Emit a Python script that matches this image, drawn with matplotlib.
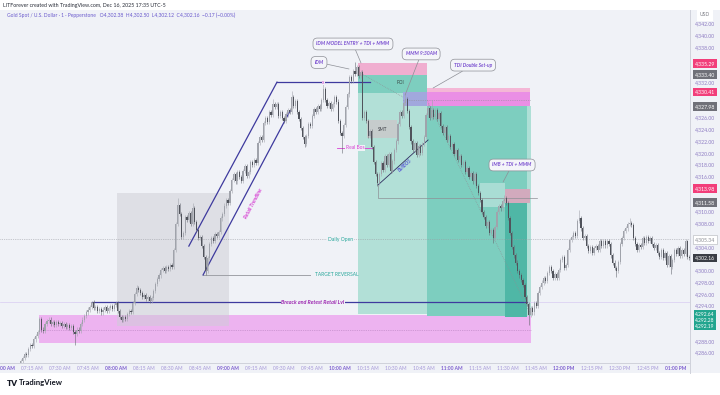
import numpy as np
import matplotlib.pyplot as plt
from matplotlib.patches import Rectangle
from matplotlib.lines import Line2D

plt.rcParams['font.family'] = ['Lato', 'DejaVu Sans']

# 1-minute candles, minutes counted from 07:00 AM
first_minute = 9
first_open = 4284.0
closes = [
    4284.6, 4285.2, 4285.9, 4285.6, 4286.7, 4287.4, 4287.2, 4288.3, 4288.9, 4289.6,
    4291.8, 4290.0, 4289.8, 4290.9, 4291.4, 4291.7, 4291.0, 4291.3, 4290.7, 4291.2,
    4290.9, 4291.1, 4290.6, 4290.9, 4290.5, 4290.8, 4290.2, 4290.6, 4289.6, 4289.2,
    4290.0, 4289.8, 4290.9, 4291.7, 4292.3, 4292.9, 4293.4, 4293.8, 4294.6, 4293.6,
    4293.9, 4293.2, 4293.5, 4292.9, 4293.4, 4293.8, 4293.2, 4293.6, 4294.0, 4293.5,
    4294.2, 4294.5, 4293.1, 4292.2, 4291.6, 4292.1, 4291.8, 4292.6, 4293.2, 4293.0,
    4294.5, 4296.1, 4297.0, 4296.7, 4296.2, 4295.6, 4295.9, 4295.2, 4295.5, 4294.8,
    4295.4, 4296.5, 4297.8, 4298.6, 4299.2, 4300.1, 4300.4, 4300.0, 4300.6, 4300.3,
    4301.0, 4300.6, 4303.5, 4307.9, 4311.2, 4309.6, 4305.8, 4306.4, 4309.2, 4308.6,
    4309.8, 4308.0, 4310.7, 4308.3, 4306.9, 4305.6, 4305.8, 4304.2, 4302.4, 4300.0,
    4302.1, 4304.6, 4305.5, 4305.0, 4306.3, 4306.0, 4306.6, 4308.9, 4309.6, 4311.1,
    4312.0, 4311.5, 4313.5, 4315.5, 4316.5, 4315.2, 4316.8, 4316.0, 4315.3, 4317.0,
    4317.8, 4316.2, 4316.8, 4318.5, 4318.0, 4318.9, 4318.4, 4321.8, 4322.8, 4322.3,
    4325.2, 4326.0, 4325.4, 4327.0, 4326.5, 4328.3, 4327.8, 4328.4, 4326.3, 4327.0,
    4326.0, 4325.5, 4326.6, 4327.4, 4327.0, 4329.5, 4328.0, 4328.9, 4327.0, 4325.8,
    4324.3, 4322.8, 4321.5, 4323.0, 4325.0, 4324.6, 4326.3, 4327.5, 4327.0, 4328.0,
    4327.6, 4329.0, 4331.0, 4329.0, 4328.0, 4328.6, 4327.5, 4328.3, 4329.5, 4328.8,
    4325.5, 4323.5, 4323.0, 4324.8, 4327.8, 4330.0, 4333.0, 4332.3, 4334.0, 4333.5,
    4334.6, 4333.2, 4333.8, 4326.0, 4327.0, 4325.5, 4323.0, 4323.8, 4321.0, 4318.5,
    4316.5, 4315.0, 4316.5, 4318.3, 4317.2, 4319.5, 4318.0, 4319.8, 4317.0, 4318.6,
    4320.5, 4322.0, 4325.0, 4327.0, 4326.4, 4328.5, 4329.3, 4327.2, 4324.5, 4322.0,
    4320.6, 4321.8, 4319.7, 4321.2, 4320.0, 4321.5, 4322.8, 4326.5, 4327.7, 4326.0,
    4327.4, 4326.2, 4327.3, 4325.8, 4326.8, 4324.6, 4323.5, 4324.5, 4322.3, 4323.0,
    4321.0, 4321.6, 4319.8, 4320.5, 4318.8, 4319.6, 4318.0, 4318.5, 4316.8, 4317.5,
    4316.0, 4316.6, 4315.2, 4316.4, 4314.5, 4313.2, 4312.0, 4310.0, 4309.2, 4307.6,
    4308.3, 4306.5, 4307.0, 4305.6, 4307.5, 4310.0, 4311.0, 4310.6, 4311.8, 4312.3,
    4311.5, 4309.0, 4306.5, 4304.0, 4302.6, 4301.4, 4300.0, 4299.2, 4298.5, 4297.6,
    4295.5, 4294.4, 4292.5, 4293.7, 4292.9, 4294.5, 4294.0, 4296.2, 4297.3, 4298.0,
    4298.8, 4298.2, 4299.6, 4300.6, 4300.0, 4298.8, 4299.5, 4298.7, 4300.1, 4301.8,
    4302.4, 4300.5, 4301.0, 4303.6, 4305.2, 4305.8, 4306.5, 4306.0, 4308.5, 4309.0,
    4307.2, 4305.5, 4305.9, 4304.2, 4303.4, 4304.0, 4303.0, 4303.8, 4304.2, 4303.5,
    4305.0, 4304.2, 4305.1, 4304.3, 4305.0, 4304.5, 4302.6, 4301.4, 4300.5, 4299.9,
    4301.5, 4304.5, 4305.5, 4306.8, 4307.2, 4308.0, 4308.2, 4307.8, 4305.6, 4304.6,
    4303.5, 4304.3, 4304.0, 4305.5, 4304.8, 4305.7, 4305.0, 4305.6, 4304.6, 4303.8,
    4304.4, 4303.0, 4302.4, 4303.6, 4302.2, 4303.0, 4301.0, 4302.5, 4300.6, 4301.8,
    4303.5, 4302.8, 4303.8, 4302.5, 4303.6, 4302.8, 4305.0, 4302.38, 4302.16,
]
# wick extremes (minute: price)
high_marks = {19: 4292.1, 47: 4294.9, 71: 4297.6, 93: 4312.3, 101: 4311.6, 144: 4329.3,
              154: 4330.6, 171: 4331.8, 188: 4335.5, 215: 4330.1, 227: 4328.5,
              229: 4329.0, 268: 4312.9, 308: 4310.3, 335: 4308.9, 366: 4305.2}
low_marks = {38: 4287.3, 108: 4299.3, 161: 4321.1, 181: 4320.1, 200: 4314.5,
             262: 4304.8, 281: 4290.8, 328: 4299.0, 357: 4299.4}

# price levels from the right scale
p1_stop, p1_entry, p1_target = 4335.29, 4333.40, 4292.64
p2_stop, p2_entry, p2_target = 4330.41, 4327.98, 4292.28
p3_stop, p3_entry, p3_target = 4313.98, 4311.58, 4292.19
last_price = 4302.16
daily_open = 4305.34
retest_lvl = 4294.68
target_rev = 4299.28
real_bos = 4320.9

price_ticks = list(range(4286, 4343, 2))
time_labels = ["07:00 AM", "07:15 AM", "07:30 AM", "07:45 AM", "08:00 AM", "08:15 AM",
               "08:30 AM", "08:45 AM", "09:00 AM", "09:15 AM", "09:30 AM", "09:45 AM",
               "10:00 AM", "10:15 AM", "10:30 AM", "10:45 AM", "11:00 AM", "11:15 AM",
               "11:30 AM", "11:45 AM", "12:00 PM", "12:15 PM", "12:30 PM", "12:45 PM",
               "01:00 PM"]

W, H = 720, 395
panel = '#F0F2F7'
navy = '#3E3A9E'
magenta = '#D63FD2'
purple = '#7A4FD0'

fig = plt.figure(figsize=(7.2, 3.95), dpi=100)
fig.patch.set_facecolor('white')
fig.add_artist(Rectangle((0, 1 - 373 / H), 1, 363 / H, transform=fig.transFigure,
                         facecolor=panel, edgecolor='none', zorder=0))
ax = fig.add_axes([0, 1 - 363 / H, 690 / W, 353 / H])
ax.set_xlim(-2.14, 367.4)
ax.set_ylim(4284.30, 4344.38)
ax.axis('off')

# axis frame lines
fig.add_artist(Line2D([0, 690 / W], [1 - 363 / H] * 2, transform=fig.transFigure, color='#CFD2DB', lw=0.7))
fig.add_artist(Line2D([690 / W] * 2, [1 - 10 / H, 1 - 373 / H], transform=fig.transFigure, color='#CFD2DB', lw=0.7))

# ---- zones ----
rects = [
    (18.7, 282.3, 4287.7, 4292.4, '#EDB3F0', 1.0, 1),
    (60.3, 120.5, 4290.6, 4313.2, '#CDCED5', 0.5, 2),
    (189.6, 226.6, p1_target, p1_entry, '#B2E0D7', 1.0, 1),
    (189.6, 226.6, 4330.3, p1_entry, '#7DCEBF', 1.0, 1.1),
    (189.6, 226.6, p1_entry, p1_stop, '#F0AED0', 1.0, 1.1),
    (226.6, 280.1, p2_target, p2_entry, '#7DCEBF', 1.0, 1),
    (280.1, 282.3, p2_target, p2_entry, '#AEDFD6', 1.0, 1),
    (226.6, 281.7, p2_stop, 4331.1, '#F4B7D6', 1.0, 1.1),
    (226.6, 281.7, p2_entry, p2_stop, '#EA8FE5', 1.0, 1.1),
    (213.7, 226.6, p2_entry, p2_stop, '#A1A8DD', 1.0, 1.2),
    (268.3, 280.1, p3_target, p3_entry, '#4FB7A6', 1.0, 1.2),
    (268.3, 281.7, p3_entry, p3_stop, '#D2AABD', 1.0, 1.3),
    (255.0, 268.3, 4310.85, 4314.94, '#A9DDD4', 1.0, 1.3),
    (194.4, 210.5, 4322.6, 4325.66, '#C6CCCC', 1.0, 1.3),
]
for t0, t1, lo, hi, c, a, z in rects:
    ax.add_patch(Rectangle((t0, lo), t1 - t0, hi - lo, facecolor=c, alpha=a, edgecolor='none', zorder=z))

dot = (0, (1, 1.6))
ax.plot([18.7, 282.3], [4290.0] * 2, color='#B27FBC', lw=0.5, ls=dot, zorder=2)
ax.axhline(retest_lvl, color='#D8CCF2', lw=0.5, zorder=2)
ax.axhline(daily_open, color='#9A9CA3', lw=0.5, ls=dot, zorder=2)
ax.plot([47, 280], [retest_lvl] * 2, color=navy, lw=0.9, zorder=3)
ax.plot([106.6, 164], [target_rev] * 2, color='#A0A2A8', lw=0.7, zorder=3)
ax.plot([99, 146.2], [4304.2, 4332.1], color=navy, lw=0.9, zorder=3)
ax.plot([146.2, 196], [4332.1] * 2, color=navy, lw=0.9, zorder=3)
ax.plot([106.6, 153.2], [target_rev, 4327.2], color=navy, lw=0.9, zorder=3)
ax.plot([178.4, 197.6], [real_bos] * 2, color=magenta, lw=0.6, zorder=3)
ax.plot([200.3, 227.1], [4314.6, 4322.26], color='#2F2E5E', lw=0.6, zorder=3)
ax.plot([200.3, 200.3, 285.5], [4314.6, 4312.38, 4312.38], color='#8E9096', lw=0.5, zorder=3)
ax.plot([190.7, 213.7], [4333.66, 4329.57], color='#8E9096', lw=0.5, ls=dot, zorder=3)
ax.plot([213.7, 281.7], [4329.06] * 2, color='#8E9096', lw=0.5, ls=dot, zorder=3)
ax.plot([226.6, 281.7], [4329.06, 4292.8], color='#8E9096', lw=0.5, ls=dot, zorder=3)

# ---- candles ----
closes = np.array(closes)
minutes = np.arange(first_minute, first_minute + len(closes))
opens = np.concatenate([[first_open], closes[:-1]])
highs = np.maximum(opens, closes) + 0.35
lows = np.minimum(opens, closes) - 0.35
for m, v in high_marks.items():
    highs[m - first_minute] = v
for m, v in low_marks.items():
    lows[m - first_minute] = v
up = closes >= opens
ax.vlines(minutes, lows, highs, colors=np.where(up, '#A3A6AE', '#676A72'), lw=0.4, zorder=5)
ax.bar(minutes, np.maximum(np.abs(closes - opens), 0.1), bottom=np.minimum(opens, closes),
       width=0.62, color=np.where(up, '#A0A3AB', '#50535B'), linewidth=0, zorder=6)

# ---- drawing texts ----
tk = dict(ha='center', va='center', zorder=7)
ax.text(165.5, retest_lvl, 'Breack and Retest Retail Lvl', fontsize=3.9, color='#9C27B0',
        style='italic', weight='bold', bbox=dict(fc=panel, ec='none', pad=0.6), **tk)
ax.text(180.3, daily_open, 'Daily Open', fontsize=3.6, color='#26A69A',
        bbox=dict(fc=panel, ec='none', pad=0.6), **tk)
ax.text(178.1, target_rev, 'TARGET REVERSAL', fontsize=3.5, color='#26A69A', **tk)
ax.text(188.0, real_bos, 'Real Bos', fontsize=3.5, color=magenta,
        bbox=dict(fc=panel, ec='none', pad=0.5), **tk)
ax.text(171.0, 4332.1, 'x', fontsize=3.4, color=magenta, bbox=dict(fc=panel, ec='none', pad=0.3), **tk)
ax.text(133.5, 4311.4, 'Retail Trendline', fontsize=3.6, color=magenta, style='italic',
        weight='bold', rotation=62, rotation_mode='anchor', **tk)
ax.text(215.0, 4317.9, 'BullBOS', fontsize=3.4, color='#5B5BD6', style='italic',
        weight='bold', rotation=42, rotation_mode='anchor', **tk)
ax.text(212.1, 4332.1, 'POI', fontsize=3.4, color='#3A4A48', **tk)
ax.text(202.5, 4324.1, 'SMT', fontsize=3.3, color='#3A3D44', **tk)

callouts = [
    ('IDM MODEL ENTRY + TDI + MMM', (186.9, 4338.6), (191.2, 4335.36)),
    ('IDM', (168.7, 4335.45), (184.8, 4334.34)),
    ('MMM 9:30AM', (223.4, 4336.9), (214.8, 4329.9)),
    ('TDI Double Set-up', (251.2, 4335.0), (229.8, 4331.1)),
    ('IMB + TDI + MMM', (272.1, 4318.0), (267.3, 4315.1)),
]
for txt, xy_text, xy in callouts:
    ax.annotate(txt, xy=xy, xytext=xy_text, fontsize=3.5, color=purple, style='italic',
                weight='bold', ha='center', va='center', zorder=8,
                bbox=dict(boxstyle='round,pad=0.7,rounding_size=0.9', fc='#F4F5F9', ec='#8D8F96', lw=0.5),
                arrowprops=dict(arrowstyle='-', color='#8D8F96', lw=0.5, shrinkA=0, shrinkB=0))

# ---- price scale ----
ytr = ax.get_yaxis_transform()
specials = [(p1_stop, '#F23E7A'), (p1_entry, '#6F7078'), (p2_stop, '#F23E7A'),
            (p2_entry, '#6F7078'), (p3_stop, '#F23E7A'), (p3_entry, '#6F7078'),
            (last_price, '#3A3D45')]
covered = [p for p, _ in specials] + [daily_open, p1_target, 4291.4, 4290.5]
for p in price_ticks:
    if min(abs(p - q) for q in covered) < 1.05:
        continue
    ax.text(1.0217, p, f'{p:,.2f}', transform=ytr, fontsize=3.7, color='#8E7CC3',
            ha='center', va='center', clip_on=False, zorder=9)
for p, c in specials:
    ax.text(1.0217, p, f'{p:,.2f}', transform=ytr, fontsize=3.7, color='white', ha='center',
            va='center', clip_on=False, zorder=10,
            bbox=dict(boxstyle='square,pad=0.35', fc=c, ec='none'))
ax.text(1.0217, daily_open, f'{daily_open:,.2f}', transform=ytr, fontsize=3.7, color='#8A8C93',
        ha='center', va='center', clip_on=False, zorder=10,
        bbox=dict(boxstyle='square,pad=0.35', fc='white', ec='#B0B2B8', lw=0.4))
for k, p in enumerate([p1_target, p2_target, p3_target]):
    ax.annotate(f'{p:,.2f}', xy=(1.0217, p1_target), xycoords=ytr, xytext=(0, -4.2 * k),
                textcoords='offset points', fontsize=3.5, color='white', ha='center', va='center',
                annotation_clip=False, zorder=10,
                bbox=dict(boxstyle='square,pad=0.3', fc='#22A58F', ec='none'))
fig.text(705 / W, 1 - 15 / H, 'USD', fontsize=3.6, color='#7A7C84', ha='center', va='center',
         bbox=dict(boxstyle='square,pad=0.6', fc='white', ec='none'))

# ---- time scale ----
xtr = ax.get_xaxis_transform()
for k, lab in enumerate(time_labels):
    bold = k % 4 == 0
    ax.text(15 * k, -0.0142, lab, transform=xtr, fontsize=3.5, ha='center', va='center',
            color='#7E5FD0' if bold else '#A496D8', weight='bold' if bold else 'normal',
            clip_on=False)

# ---- header and logo ----
fig.text(3 / W, 1 - 5 / H, 'LITForever created with TradingView.com, Dec 16, 2025 17:35 UTC-5',
         fontsize=3.8, color='#2A2E39', ha='left', va='center')
fig.text(7 / W, 1 - 15.5 / H,
         'Gold Spot / U.S. Dollar · 1 · Pepperstone   O4,302.38  H4,302.50  L4,302.12  C4,302.16  −0.17 (−0.00%)',
         fontsize=3.6, color='#6A5ACD', ha='left', va='center')
fig.text(7 / W, 1 - 383 / H, 'TV', fontsize=6, color='#131722', weight='heavy', ha='left', va='center')
fig.text(19 / W, 1 - 383 / H, 'TradingView', fontsize=5.6, color='#131722', weight='bold',
         ha='left', va='center')

fig.savefig('out.png', dpi=100)
